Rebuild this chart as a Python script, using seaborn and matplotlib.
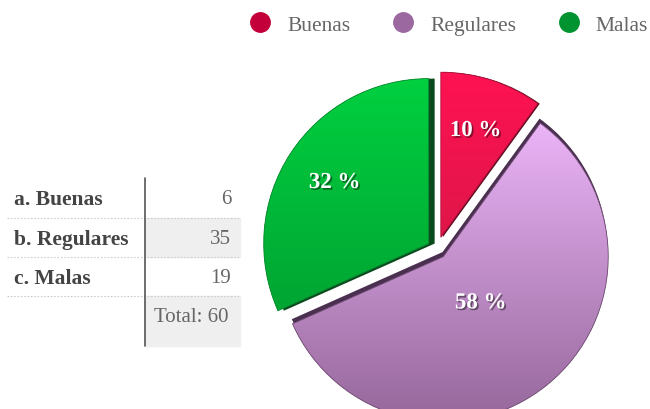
import numpy as np
import matplotlib
matplotlib.use("Agg")
import matplotlib.pyplot as plt
import matplotlib.patheffects as pe
from matplotlib.colors import LinearSegmentedColormap
from matplotlib.lines import Line2D
from matplotlib.patches import Rectangle, Wedge
import seaborn as sns

# =========================
# datos
# =========================
categorias = ["Buenas", "Regulares", "Malas"]
etiquetas_tabla = ["a. Buenas", "b. Regulares", "c. Malas"]
valores = [6, 35, 19]
total = sum(valores)

# colores
colores_leyenda = ["#c4003a", "#9c68a0", "#00932f"]
degradados = [("#df1649", "#ff1252"), ("#95679a", "#ebb4f7"), ("#00a532", "#00d040")]
bordes = ["#b0123c", "#6e4c72", "#0a8a30"]
lados = ["#5e0a1e", "#4a2f50", "#0b4a1d"]      # cara lateral oscura
desplaz = [(0.012, 0.0), (-0.004, 0.028), (0.036, 0.0)]

sns.set_theme(style="white")
plt.rcParams["font.family"] = ["Liberation Serif", "DejaVu Serif"]

fig = plt.figure(figsize=(6.5, 4.1), dpi=100)

# =========================
# pastel
# =========================
cx, cy, r = 437, 160, 165   # centro y radio en pixeles (y desde abajo)
ax = fig.add_axes([0, 0, 1, 1])
wedges, _ = ax.pie(
    valores,
    colors=colores_leyenda,
    startangle=90,
    counterclock=False,
    explode=[0.075, 0.06, 0.06],
    radius=1,
    center=(0, 0),
    wedgeprops=dict(linewidth=0),
)

gradiente = np.linspace(0, 1, 256).reshape(-1, 1)
for w, (c0, c1), b, lado, (dx, dy) in zip(wedges, degradados, bordes, lados, desplaz):
    # cara lateral (efecto 3d)
    ax.add_patch(Wedge((w.center[0] + dx, w.center[1] + dy), w.r, w.theta1,
                       w.theta2, fc=lado, ec="none", zorder=1.5))
    bb = w.get_path().get_extents()
    cmap = LinearSegmentedColormap.from_list("g", [c0, c1])
    im = ax.imshow(gradiente, cmap=cmap, origin="lower", aspect="auto",
                   extent=(bb.x0, bb.x1, bb.y0, bb.y1), zorder=2)
    im.set_clip_path(w)
    ax.add_patch(Wedge(w.center, w.r, w.theta1, w.theta2, fill=False,
                       ec=b, lw=0.6, zorder=3))

# porcentajes
distancias = [0.68, 0.36, 0.68]
for w, v, d in zip(wedges, valores, distancias):
    th = np.deg2rad((w.theta1 + w.theta2) / 2)
    x = w.center[0] + d * w.r * np.cos(th)
    y = w.center[1] + d * w.r * np.sin(th)
    ax.text(x, y, f"{round(v / total * 100)} %", ha="center", va="center",
            fontsize=16.5, fontweight="bold", color="white", zorder=4,
            path_effects=[pe.withSimplePatchShadow(offset=(1.2, -1.2),
                                                   shadow_rgbFace="black",
                                                   alpha=0.45)])

ax.set_xlim(-cx / r, (650 - cx) / r)
ax.set_ylim(-cy / r, (410 - cy) / r)
ax.set_axis_off()

# leyenda
handles = [Line2D([], [], marker="o", ls="", ms=14, mfc=c, mec=c)
           for c in colores_leyenda]
ax.legend(handles, categorias, ncol=3, loc="upper right",
          bbox_to_anchor=(1.007, 0.978), frameon=False, fontsize=15.5,
          handletextpad=0.25, columnspacing=1.45, labelcolor="#666666",
          borderaxespad=0, borderpad=0.3)

# =========================
# tabla
# =========================
axt = fig.add_axes([0, 0, 1, 1])
axt.set_xlim(0, 650)
axt.set_ylim(410, 0)
axt.set_facecolor("none")
axt.set_axis_off()

filas_y = [200, 240, 279]
for i, (lab, v) in enumerate(zip(etiquetas_tabla, valores)):
    if i % 2 == 1:
        axt.add_patch(Rectangle((145, 219), 95, 39, color="#efefef", zorder=0))
    axt.text(14, filas_y[i], lab, fontweight="bold", fontsize=15.5,
             color="#444444", va="center")
    axt.text(231, filas_y[i], str(v), ha="right", va="center",
             fontsize=15, color="#666666")

axt.add_patch(Rectangle((145, 297), 95, 50, color="#efefef", zorder=0))
axt.text(191, 318, f"Total: {total}", ha="center", va="center",
         fontsize=15, color="#666666")

for y in [219, 258, 297]:
    axt.plot([7, 240], [y, y], ls=(0, (1.5, 1.5)), color="#cccccc", lw=0.8)
axt.plot([145, 145], [179, 347], color="#555555", lw=1.2)

fig.savefig("out.png", dpi=100)
